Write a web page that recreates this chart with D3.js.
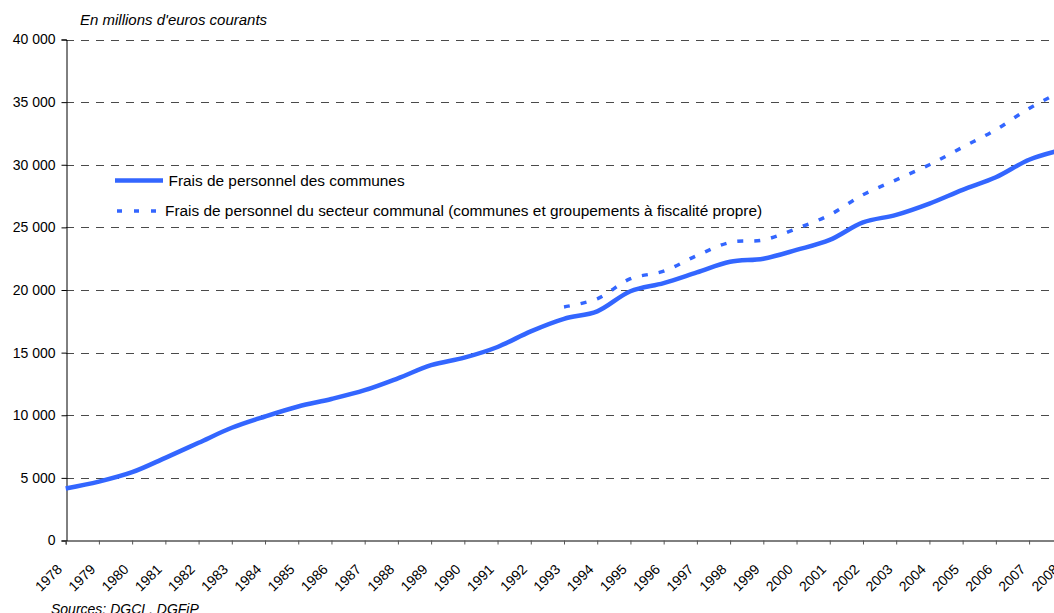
<!DOCTYPE html>
<html><head><meta charset="utf-8">
<script src="https://cdn.jsdelivr.net/npm/d3@7"></script>
<style>
html,body{margin:0;padding:0;background:#fff;}
svg{display:block;font-family:"Liberation Sans",Arial,sans-serif;}
</style></head>
<body>
<svg id="chart" width="1054" height="613"></svg>
<script>
const years = ["1978","1979","1980","1981","1982","1983","1984","1985","1986","1987","1988","1989","1990","1991","1992","1993","1994","1995","1996","1997","1998","1999","2000","2001","2002","2003","2004","2005","2006","2007","2008"];
const communes = [4150,4700,5450,6600,7800,9000,9900,10700,11300,12000,12950,14000,14600,15450,16700,17700,18300,19900,20550,21400,22250,22500,23200,24000,25400,26000,26900,28000,29000,30400,31200];
const secteurYears = ["1993","1994","1995","1996","1997","1998","1999","2000","2001","2002","2003","2004","2005","2006","2007","2008"];
const secteur = [18650,19300,20900,21500,22750,23800,24000,24900,26000,27600,28800,30000,31400,32800,34500,35900];
const yTicks = [0,5000,10000,15000,20000,25000,30000,35000,40000];
const seriesNames = ["Frais de personnel des communes","Frais de personnel du secteur communal (communes et groupements à fiscalité propre)"];
const unitLabel = "En millions d'euros courants";
const sourceLabel = "Sources: DGCL, DGFiP";

const svg = d3.select("#chart");
const blue = "#3366FF";
const x = d3.scalePoint().domain(years).range([65.7, 1062.3]).padding(0);
const y = d3.scaleLinear().domain([0, 40000]).range([540.5, 39.5]);
const fmt = v => d3.format(",")(v).replace(/,/g, " ");

// gridlines
svg.append("g").selectAll("line").data(yTicks.filter(d => d > 0)).join("line")
  .attr("x1", 66).attr("x2", 1070)
  .attr("y1", d => Math.round(y(d)) + 0.5).attr("y2", d => Math.round(y(d)) + 0.5)
  .attr("stroke", "#4a4a4a").attr("stroke-width", 1).attr("stroke-dasharray", "8,7");

// y axis
const yAxis = svg.append("g").attr("transform", "translate(66.5,0)")
  .call(d3.axisLeft(y).tickValues(yTicks).tickFormat(fmt).tickSize(5).tickPadding(6));
yAxis.select(".domain").attr("stroke", "#000");
yAxis.selectAll(".tick line").attr("stroke", "#000");
yAxis.selectAll("text").attr("font-size", 14).attr("fill", "#000").attr("font-family", "Liberation Sans, Arial, sans-serif");

// x axis
const xAxis = svg.append("g").attr("transform", "translate(0,540.5)")
  .call(d3.axisBottom(x).tickSize(4).tickPadding(0));
xAxis.select(".domain").attr("stroke", "#000");
xAxis.selectAll(".tick line").attr("stroke", "#555");
xAxis.selectAll("text")
  .attr("font-size", 14).attr("fill", "#000").attr("font-family", "Liberation Sans, Arial, sans-serif")
  .attr("text-anchor", "end").attr("dy", "0.35em")
  .attr("transform", "translate(-9.5,23.5) rotate(-45)");

const curve = d3.curveCatmullRom.alpha(0.5);
// series lines
svg.append("path").datum(communes.map((v, i) => [years[i], v]))
  .attr("fill", "none").attr("stroke", blue).attr("stroke-width", 4.5)
  .attr("stroke-linejoin", "round")
  .attr("d", d3.line().x(d => x(d[0])).y(d => y(d[1])).curve(curve));
svg.append("path").datum(secteur.map((v, i) => [secteurYears[i], v]))
  .attr("fill", "none").attr("stroke", blue).attr("stroke-width", 3.5)
  .attr("stroke-dasharray", "6,11")
  .attr("d", d3.line().x(d => x(d[0])).y(d => y(d[1])).curve(curve));

// legend
const lg = svg.append("g");
lg.append("line").attr("x1", 115).attr("x2", 163).attr("y1", 180.5).attr("y2", 180.5)
  .attr("stroke", blue).attr("stroke-width", 4.5);
lg.append("text").attr("x", 168.5).attr("y", 180.5).attr("dy", "0.35em")
  .attr("font-size", 15.4).text(seriesNames[0]);
lg.append("line").attr("x1", 117).attr("x2", 163).attr("y1", 211).attr("y2", 211)
  .attr("stroke", blue).attr("stroke-width", 3.5).attr("stroke-dasharray", "5,12");
lg.append("text").attr("x", 165).attr("y", 211).attr("dy", "0.35em")
  .attr("font-size", 15.4).text(seriesNames[1]);

// titles
svg.append("text").attr("x", 80).attr("y", 24.5).attr("font-size", 15)
  .attr("font-style", "italic").text(unitLabel);
svg.append("text").attr("x", 51).attr("y", 614).attr("font-size", 14)
  .attr("font-style", "italic").text(sourceLabel);
</script>
</body></html>
